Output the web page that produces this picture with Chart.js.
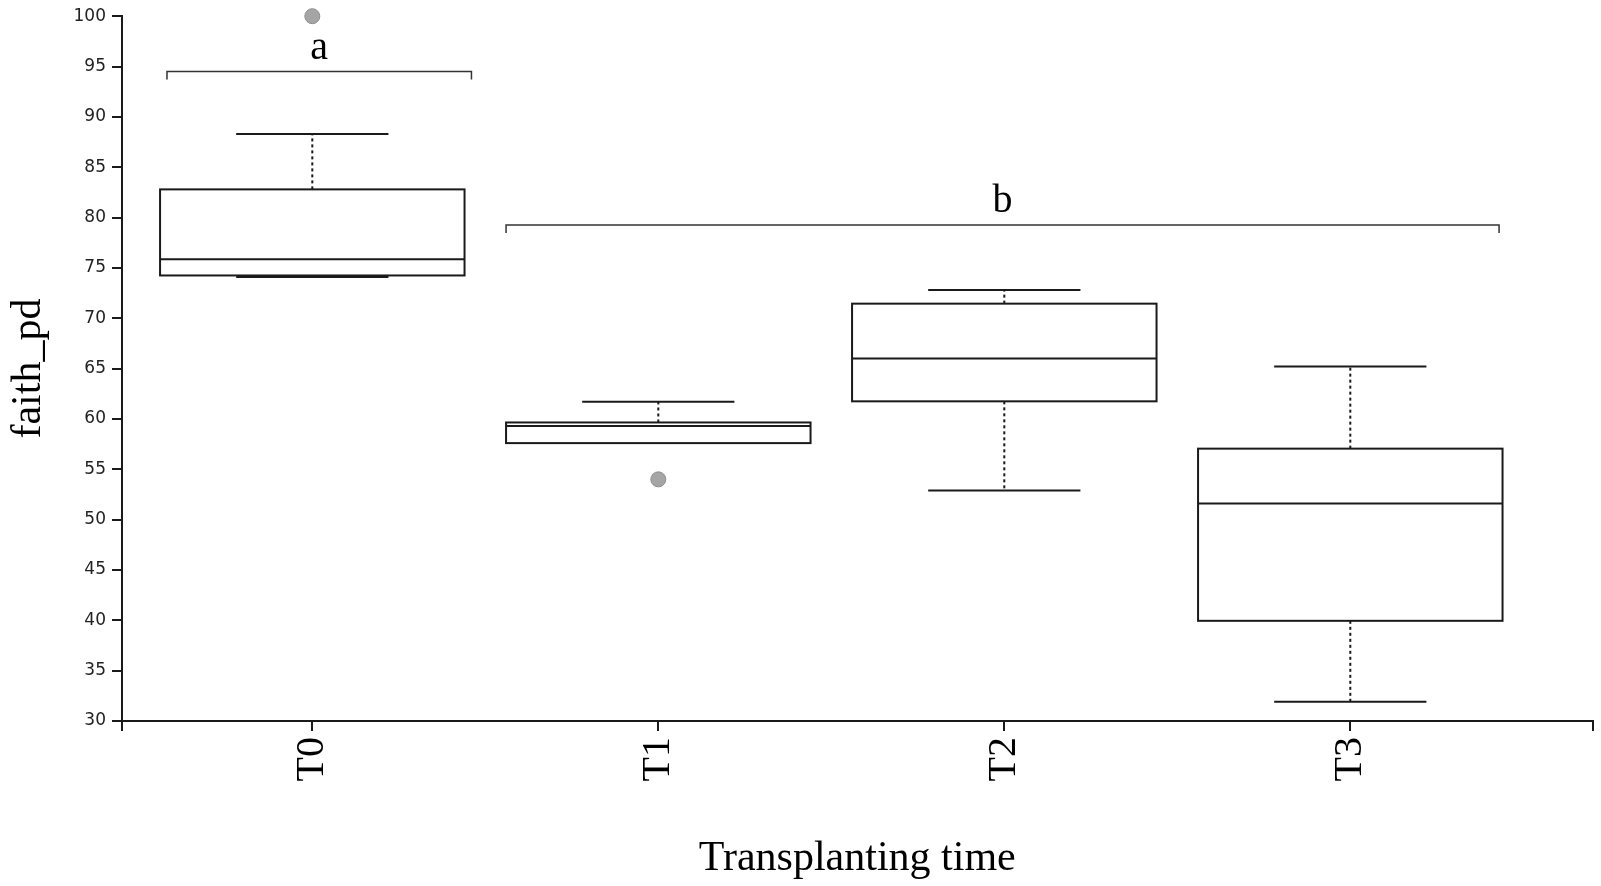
<!DOCTYPE html>
<html>
<head>
<meta charset="utf-8">
<script src="https://cdn.jsdelivr.net/npm/chart.js@4.4.1/dist/chart.umd.min.js"></script>
<style>
  html, body { margin: 0; padding: 0; background: #fff; }
  #wrap { width: 1601px; height: 886px; }
</style>
</head>
<body>
<div id="wrap"><canvas id="faithChart"></canvas></div>
<script>
// box plot values
const categories = ['T0', 'T1', 'T2', 'T3'];
const whiskerLow = [74.1, 57.6, 52.9, 31.9];
const q1 = [74.25, 57.6, 61.75, 39.95];
const median = [75.85, 59.3, 66.0, 51.6];
const q3 = [82.8, 59.65, 71.45, 57.05];
const whiskerHigh = [88.3, 61.7, 72.8, 65.2];
const outliers = [[100], [54], [], []];

// significance groups (bracket start/end in category units, height in y units)
const groupLetters = ['a', 'b'];
const groupStart = [-0.42, 0.56];
const groupEnd = [0.46, 3.43];
const groupLevel = [94.5, 79.25];

const yTicks = [30, 100, 5]; // min, max, step

const boxHalf = 0.44;
const capHalf = 0.22;
const ink = '#1a1a1a';

const outlierPoints = [];
outliers.forEach((vals, i) => vals.forEach(v => outlierPoints.push({ x: i, y: v })));

const boxPlot = {
    id: 'boxPlot',
    beforeDatasetsDraw(chart) {
        const { ctx, scales: { x, y } } = chart;
        const line = (x1, y1, x2, y2) => {
            ctx.beginPath();
            ctx.moveTo(x1, y1);
            ctx.lineTo(x2, y2);
            ctx.stroke();
        };
        ctx.save();
        ctx.strokeStyle = ink;
        ctx.lineWidth = 2;

        categories.forEach((c, i) => {
            const cx = x.getPixelForValue(i);
            const left = x.getPixelForValue(i - boxHalf);
            const right = x.getPixelForValue(i + boxHalf);
            const capL = x.getPixelForValue(i - capHalf);
            const capR = x.getPixelForValue(i + capHalf);

            // dotted whiskers
            ctx.setLineDash([3, 3]);
            line(cx, y.getPixelForValue(q3[i]), cx, y.getPixelForValue(whiskerHigh[i]));
            line(cx, y.getPixelForValue(q1[i]), cx, y.getPixelForValue(whiskerLow[i]));
            ctx.setLineDash([]);

            // caps
            line(capL, y.getPixelForValue(whiskerHigh[i]), capR, y.getPixelForValue(whiskerHigh[i]));
            line(capL, y.getPixelForValue(whiskerLow[i]), capR, y.getPixelForValue(whiskerLow[i]));

            // box
            const top = y.getPixelForValue(q3[i]);
            const bottom = y.getPixelForValue(q1[i]);
            ctx.fillStyle = '#fff';
            ctx.fillRect(left, top, right - left, bottom - top);
            ctx.strokeRect(left, top, right - left, bottom - top);
            line(left, y.getPixelForValue(median[i]), right, y.getPixelForValue(median[i]));
        });

        // group brackets and letters
        ctx.lineWidth = 1.5;
        ctx.strokeStyle = '#333';
        ctx.fillStyle = '#000';
        ctx.font = '40px "Liberation Serif", "Times New Roman", serif';
        ctx.textAlign = 'center';
        ctx.textBaseline = 'alphabetic';
        groupLetters.forEach((g, k) => {
            const x1 = x.getPixelForValue(groupStart[k]);
            const x2 = x.getPixelForValue(groupEnd[k]);
            const yy = y.getPixelForValue(groupLevel[k]);
            ctx.beginPath();
            ctx.moveTo(x1, yy + 8);
            ctx.lineTo(x1, yy);
            ctx.lineTo(x2, yy);
            ctx.lineTo(x2, yy + 8);
            ctx.stroke();
            ctx.fillText(g, (x1 + x2) / 2, yy - 13);
        });
        ctx.restore();
    }
};

function initializeChart() {
    const canvas = document.getElementById('faithChart');
    const chart = new Chart(canvas.getContext('2d'), {
        type: 'scatter',
        data: {
            datasets: [{
                label: 'outliers',
                data: outlierPoints,
                clip: false,
                pointRadius: 7.5,
                pointBackgroundColor: '#a5a5a5',
                pointBorderColor: '#8e8e8e',
                pointBorderWidth: 1
            }]
        },
        options: {
            responsive: true,
            maintainAspectRatio: false,
            animation: false,
            layout: { padding: { top: 14, right: 4, left: 0, bottom: 0 } },
            plugins: { legend: { display: false }, tooltip: { enabled: false } },
            scales: {
                x: {
                    type: 'linear',
                    min: -0.55,
                    max: 3.7,
                    afterFit: s => {
                        s.height = 165;
                        s.paddingLeft = 0;
                        s.paddingRight = 0;
                    },
                    afterBuildTicks: s => {
                        s.ticks = [s.min, ...categories.map((c, i) => i), s.max].map(v => ({ value: v }));
                    },
                    ticks: {
                        minRotation: 90,
                        maxRotation: 90,
                        padding: 6,
                        color: '#000',
                        font: { family: '"Liberation Serif", "Times New Roman", serif', size: 40 },
                        callback: v => (Number.isInteger(v) ? categories[v] : '')
                    },
                    grid: { drawOnChartArea: false, drawTicks: true, tickLength: 10, color: ink, lineWidth: 2 },
                    border: { display: true, color: ink, width: 2 },
                    title: {
                        display: true,
                        text: 'Transplanting time',
                        color: '#000',
                        font: { family: '"Liberation Serif", "Times New Roman", serif', size: 42, lineHeight: 1 },
                        padding: { top: 0, bottom: 6 }
                    }
                },
                y: {
                    min: yTicks[0],
                    max: yTicks[1],
                    afterFit: s => { s.width = 122; },
                    ticks: {
                        stepSize: yTicks[2],
                        padding: 6,
                        color: '#222',
                        font: { family: '"DejaVu Sans", Verdana, sans-serif', size: 17 }
                    },
                    grid: { drawOnChartArea: false, drawTicks: true, tickLength: 10, color: ink, lineWidth: 2 },
                    border: { display: true, color: ink, width: 2 },
                    title: {
                        display: true,
                        text: 'faith_pd',
                        color: '#000',
                        font: { family: '"Liberation Serif", "Times New Roman", serif', size: 42, lineHeight: 1 },
                        padding: { top: 8, bottom: 0 }
                    }
                }
            }
        },
        plugins: [boxPlot]
    });
}

document.addEventListener('DOMContentLoaded', initializeChart);
</script>
</body>
</html>
